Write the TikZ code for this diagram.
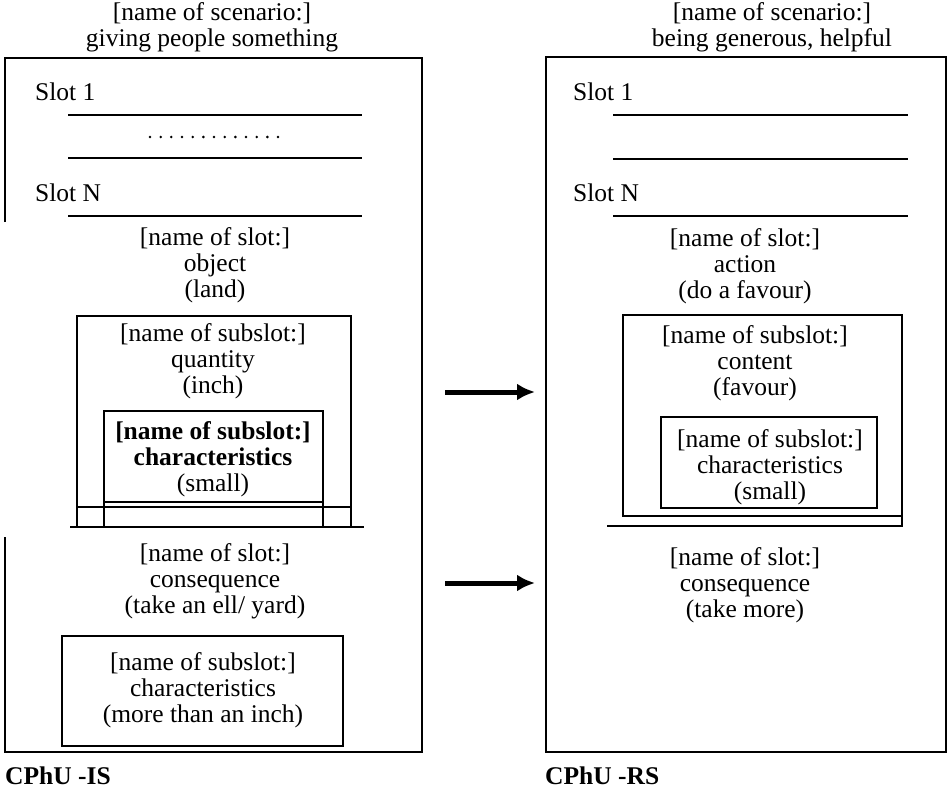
\documentclass[tikz,border=0pt]{standalone}
\usepackage{fontspec}
\setmainfont{Liberation Serif}
\usetikzlibrary{arrows.meta}
\begin{document}
\begin{tikzpicture}[x=1pt,y=-1pt,
  frame/.style={line width=2.8pt},
  rule/.style={line width=2.2pt},
  boxline/.style={line width=2pt},
  txt/.style={font=\fontsize{25.5}{26}\selectfont, align=center, inner sep=0pt},
  slotlbl/.style={font=\fontsize{25.5}{26}\selectfont, anchor=west, inner sep=0pt},
  caption/.style={font=\fontsize{25.5}{26}\selectfont\bfseries, anchor=west, inner sep=0pt},
  arr/.style={line width=5pt, -{Latex[length=18pt,width=17pt]}}]
\useasboundingbox (0,0) rectangle (950,792);

% ---------------- initial scenario (left) ----------------
\draw[frame] (5,222) -- (5,58) -- (422,58) -- (422,752) -- (5,752) -- (5,537);
\node[txt] (ltitle) at (212,27) {[name of scenario:]\\giving people something};

\node[slotlbl] (lslot1) at (35,92) {Slot 1};
\draw[rule] (68,115) -- (362,115);
\foreach \i in {0,...,12} \fill (150+\i*10.67,137) circle (1.4pt);
\draw[rule] (68,158) -- (362,158);
\node[slotlbl] (lslotn) at (35,193) {Slot N};
\draw[rule] (68,216) -- (362,216);

\node[txt] (lobj) at (215,265) {[name of slot:]\\object\\(land)};

% nested subslots of the object slot
\draw[boxline] (77,316) rectangle (351,507);
\node[txt] (lqty) at (213,361) {[name of subslot:]\\quantity\\(inch)};
\draw[boxline] (104,411) rectangle (323,502);
\node[txt] (lchar) at (213,459) {\bfseries [name of subslot:]\\\bfseries characteristics\\(small)};
\draw[boxline] (77,507) -- (77,527) (351,507) -- (351,527)
               (104,502) -- (104,527) (323,502) -- (323,527);
\draw[rule] (70,527) -- (364,527);

\node[txt] (lcons) at (215,581) {[name of slot:]\\consequence\\(take an ell/ yard)};
\draw[boxline] (62,636) rectangle (343,746);
\node[txt] (lmore) at (203,690) {[name of subslot:]\\characteristics\\(more than an inch)};

\node[caption] (lcap) at (5,776) {CPhU -IS};

% ---------------- resulting scenario (right) ----------------
\draw[frame] (546,57) rectangle (946,752);
\node[txt] (rtitle) at (772,27) {[name of scenario:]\\being generous, helpful};

\node[slotlbl] (rslot1) at (573,92) {Slot 1};
\draw[rule] (613,115) -- (908,115);
\draw[rule] (613,159) -- (908,159);
\node[slotlbl] (rslotn) at (573,193) {Slot N};
\draw[rule] (613,216) -- (908,216);

\node[txt] (raction) at (745,266) {[name of slot:]\\action\\(do a favour)};

\draw[boxline] (623,315) rectangle (902,516);
\node[txt] (rcontent) at (755,363) {[name of subslot:]\\content\\(favour)};
\draw[boxline] (661,417) rectangle (877,508);
\node[txt] (rchar) at (770,467) {[name of subslot:]\\characteristics\\(small)};
\draw[boxline] (902,516) -- (902,527);
\draw[rule] (607,526) -- (903,526);

\node[txt] (rcons) at (745,585) {[name of slot:]\\consequence\\(take more)};

\node[caption] (rcap) at (545,776) {CPhU -RS};

% ---------------- mapping arrows ----------------
\coordinate (m1s) at (445,392);
\coordinate (m1e) at (535,392);
\coordinate (m2s) at (445,583);
\coordinate (m2e) at (535,583);
\draw[arr] (m1s) -- (m1e);
\draw[arr] (m2s) -- (m2e);
\end{tikzpicture}
\end{document}
